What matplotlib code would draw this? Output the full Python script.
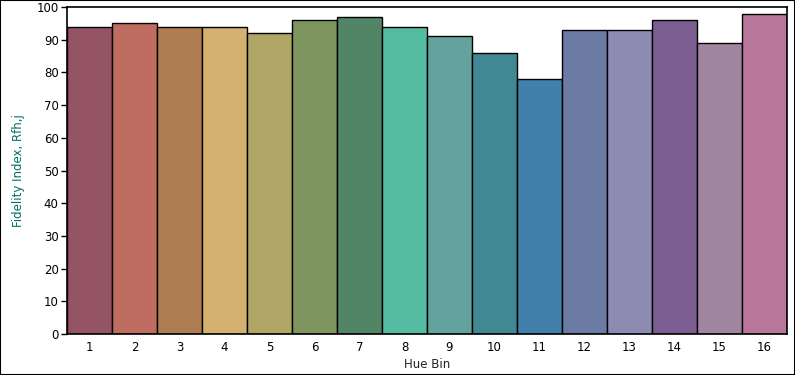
import matplotlib
matplotlib.use("Agg")
import matplotlib.pyplot as plt
from matplotlib.patches import Rectangle

bins = list(range(1, 17))
values = [94, 95, 94, 94, 92, 96, 97, 94, 91, 86, 78, 93, 93, 96, 89, 98]
colors = ["#955464", "#bf6d61", "#ae7d53", "#d4b170", "#b0a766", "#7e955f",
          "#528566", "#55bba1", "#64a29d", "#428794", "#4180aa", "#6b7ba4",
          "#8d8bb2", "#7c5d92", "#a086a1", "#b8779b"]

fig = plt.figure(figsize=(7.95, 3.75), dpi=100)
ax = fig.add_axes([67/795, 41/375, 720/795, 327/375])
ax.bar(bins, values, width=1.0, color=colors, edgecolor="black", linewidth=1.0)
ax.set_xlim(0.5, 16.5)
ax.set_ylim(0, 100)
ax.set_yticks(range(0, 101, 10))
ax.set_xticks(bins)
ax.tick_params(axis="y", length=4, width=1, labelsize=8.5, pad=2)
ax.tick_params(axis="x", length=0, labelsize=8.5, pad=5)
for s in ax.spines.values():
    s.set_linewidth(1.2)
ax.set_ylabel("Fidelity Index, Rfh,j", fontsize=8.5, color="#006e6a", labelpad=8)
ax.set_xlabel("Hue Bin", fontsize=8.5, color="#222222", labelpad=3)
fig.patches.append(Rectangle((0, 0), 1, 1, transform=fig.transFigure,
                             fill=False, edgecolor="black", linewidth=1.5))
fig.savefig("out.png", dpi=100)
